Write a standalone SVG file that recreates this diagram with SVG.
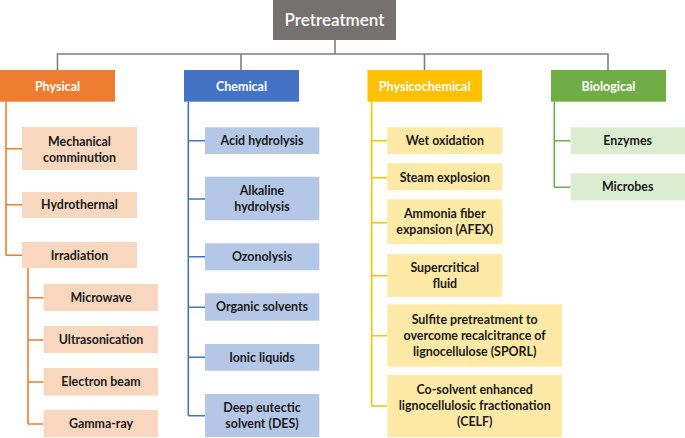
<svg xmlns="http://www.w3.org/2000/svg" width="685" height="438" viewBox="0 0 685 438">
<style>
text{font-family:Lato,"Open Sans","Liberation Sans",sans-serif;font-weight:bold;text-anchor:middle}
.t{font-size:12.4px;fill:#1a1a1a}
.c{font-size:12.5px;fill:#fff}
.root{font-size:17px;fill:#fff;font-weight:600}
.ln{fill:none;stroke-width:1.6}
.g{stroke:#7f7f7f}.o{stroke:#ED7D31}.b{stroke:#4472C4}.y{stroke:#FFC000}.gr{stroke:#70AD47}
.fo{fill:#F9D7BF}.fb{fill:#B4C7E7}.fy{fill:#FFE9A6}.fg{fill:#DAEDD0}
</style>
<rect width="685" height="438" fill="#fff"/>
<g id="connectors">
<path class="ln g" d="M335 40V54M57.5 70V54H608V70M241 54V70M424.5 54V70"/>
<path class="ln o" d="M6 101.7V255.3M6 148.7H22M6 204.7H22M6 255.3H22M28 268V424M28 297.7H43.7M28 340H43.7M28 382H43.7M28 424H43.7"/>
<path class="ln b" d="M188.3 101.7V415.7M188.3 140.7H205M188.3 199H205M188.3 256.7H205M188.3 307.3H205M188.3 357.3H205M188.3 415.7H205"/>
<path class="ln y" d="M371.7 101.7V406M371.7 140.7H387.3M371.7 177.7H387.3M371.7 222.7H387.3M371.7 275.7H387.3M371.7 335.7H387.3M371.7 406H387.3"/>
<path class="ln gr" d="M554.3 101.7V187.3M554.3 140.7H570.7M554.3 187.3H570.7"/>
</g>
<g id="pretreatment"><rect x="273" y="0" width="123" height="40" fill="#767171"/><text class="root" x="334.5" y="26">Pretreatment</text></g>
<g id="physical"><rect x="0" y="70" width="115" height="31.7" fill="#ED7D31"/><text class="c" x="57.5" y="90.5">Physical</text></g>
<g id="chemical"><rect x="184" y="70" width="115" height="31.7" fill="#4472C4"/><text class="c" x="241.5" y="90.5">Chemical</text></g>
<g id="physicochemical"><rect x="367.5" y="70" width="114.5" height="31.7" fill="#FFC000"/><text class="c" x="424.7" y="90.5">Physicochemical</text></g>
<g id="biological"><rect x="551" y="70" width="115" height="31.7" fill="#70AD47"/><text class="c" x="608.5" y="90.5">Biological</text></g>

<g id="mechanical"><rect class="fo" x="22" y="127" width="115" height="43"/><text class="t" x="79.5" y="145.5">Mechanical</text><text class="t" x="79.5" y="161.5">comminution</text></g>
<g id="hydrothermal"><rect class="fo" x="22" y="192" width="115" height="26"/><text class="t" x="79.5" y="209">Hydrothermal</text></g>
<g id="irradiation"><rect class="fo" x="22" y="242" width="115" height="26"/><text class="t" x="79.5" y="259.5">Irradiation</text></g>
<g id="microwave"><rect class="fo" x="43.7" y="284" width="114.3" height="27"/><text class="t" x="101" y="301.5">Microwave</text></g>
<g id="ultrasonication"><rect class="fo" x="43.7" y="326" width="114.3" height="27"/><text class="t" x="101" y="344">Ultrasonication</text></g>
<g id="electron-beam"><rect class="fo" x="43.7" y="368" width="114.3" height="27.7"/><text class="t" x="101" y="386">Electron beam</text></g>
<g id="gamma-ray"><rect class="fo" x="43.7" y="410" width="114.3" height="27"/><text class="t" x="101" y="428">Gamma-ray</text></g>

<g id="acid"><rect class="fb" x="205" y="127.3" width="114.3" height="26.7"/><text class="t" x="262" y="145">Acid hydrolysis</text></g>
<g id="alkaline"><rect class="fb" x="205" y="176.7" width="114.3" height="43.6"/><text class="t" x="262" y="195">Alkaline</text><text class="t" x="262" y="211">hydrolysis</text></g>
<g id="ozonolysis"><rect class="fb" x="205" y="243.3" width="114.3" height="27"/><text class="t" x="262" y="261">Ozonolysis</text></g>
<g id="organic"><rect class="fb" x="205" y="293.3" width="114.3" height="27.4"/><text class="t" x="262" y="311">Organic solvents</text></g>
<g id="ionic"><rect class="fb" x="205" y="344" width="114.3" height="26.7"/><text class="t" x="262" y="361.5">Ionic liquids</text></g>
<g id="des"><rect class="fb" x="205" y="394" width="114.3" height="43"/><text class="t" x="262" y="412">Deep eutectic</text><text class="t" x="262" y="428">solvent (DES)</text></g>

<g id="wet"><rect class="fy" x="387.3" y="127.3" width="115" height="26.7"/><text class="t" x="444.8" y="145">Wet oxidation</text></g>
<g id="steam"><rect class="fy" x="387.3" y="163.3" width="115" height="27"/><text class="t" x="444.8" y="181.5">Steam explosion</text></g>
<g id="afex"><rect class="fy" x="387.3" y="199.3" width="115" height="44.7"/><text class="t" x="444.8" y="218">Ammonia fiber</text><text class="t" x="444.8" y="234">expansion (AFEX)</text></g>
<g id="supercritical"><rect class="fy" x="387.3" y="254" width="115" height="43"/><text class="t" x="444.8" y="271.5">Supercritical</text><text class="t" x="444.8" y="287.5">fluid</text></g>
<g id="sporl"><rect class="fy" x="387.3" y="304.3" width="174.7" height="62.4"/><text class="t" x="474.7" y="323.5">Sulfite pretreatment to</text><text class="t" x="474.7" y="339.5">overcome recalcitrance of</text><text class="t" x="474.7" y="355.5">lignocellulose (SPORL)</text></g>
<g id="celf"><rect class="fy" x="387.3" y="375" width="174.7" height="62"/><text class="t" x="474.7" y="393.5">Co-solvent enhanced</text><text class="t" x="474.7" y="410">lignocellulosic fractionation</text><text class="t" x="474.7" y="426">(CELF)</text></g>

<g id="enzymes"><rect class="fg" x="570.7" y="127.3" width="114.3" height="26.7"/><text class="t" x="627.7" y="145">Enzymes</text></g>
<g id="microbes"><rect class="fg" x="570.7" y="173.3" width="114.3" height="27"/><text class="t" x="627.7" y="191">Microbes</text></g>
</svg>
